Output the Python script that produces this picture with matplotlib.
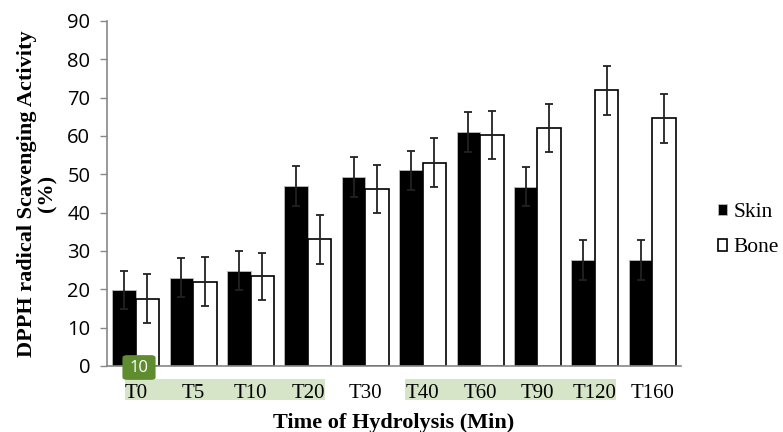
import numpy as np
import matplotlib.pyplot as plt
from matplotlib.patches import FancyBboxPatch, Rectangle

times = ["T0", "T5", "T10", "T20", "T30", "T40", "T60", "T90", "T120", "T160"]
skin = [19.8, 23.0, 24.9, 47.0, 49.4, 51.0, 61.1, 46.8, 27.7, 27.7]
skin_err = [5.0, 5.1, 5.2, 5.2, 5.2, 5.1, 5.2, 5.1, 5.2, 5.2]
bone = [17.5, 22.0, 23.4, 33.0, 46.1, 53.0, 60.2, 62.1, 71.9, 64.6]
bone_err = [6.4, 6.4, 6.2, 6.3, 6.3, 6.4, 6.3, 6.3, 6.4, 6.4]

fig = plt.figure(figsize=(7.83, 4.32), dpi=100)
ax = fig.add_axes([0.1367, 0.1528, 0.7330, 0.7986])

x = np.arange(len(times))
w = 0.41
eb = dict(ecolor="#222222", elinewidth=1.3, capsize=3, capthick=1.3)
ax.bar(x - w / 2, skin, w, color="black", edgecolor="#bbbbbb", linewidth=0.6,
       yerr=skin_err, error_kw=eb, label="Skin", zorder=2)
ax.bar(x + w / 2, bone, w, color="white", edgecolor="black", linewidth=1.2,
       yerr=bone_err, error_kw=eb, label="Bone", zorder=2)

ax.set_xlim(-0.5, len(times) - 0.5)
ax.set_ylim(0, 90)
ax.set_yticks(np.arange(0, 91, 10))
ax.set_xticks(x)
ax.set_xticklabels(times, family="Liberation Serif", fontsize=15)
for lab in ax.get_yticklabels():
    lab.set_family("Open Sans")
    lab.set_fontsize(14.5)
ax.tick_params(axis="x", length=0, pad=13)
ax.tick_params(axis="y", length=5, color="#888888", width=1, pad=7)
for s in ["top", "right"]:
    ax.spines[s].set_visible(False)
for s in ["left", "bottom"]:
    ax.spines[s].set_color("#888888")
    ax.spines[s].set_linewidth(1.2)

ax.set_ylabel("DPPH radical Scavenging Activity\n(%)", family="Liberation Serif",
              fontweight="bold", fontsize=16, linespacing=1.05, labelpad=7)
ax.set_xlabel("Time of Hydrolysis (Min)", family="Liberation Serif",
              fontweight="bold", fontsize=16, labelpad=7.5)

leg = ax.legend(loc="center left", bbox_to_anchor=(1.049, 0.393), frameon=False,
                prop={"family": "Liberation Serif", "size": 15.5}, borderaxespad=0,
                handlelength=0.45, handleheight=0.45, handletextpad=0.3,
                labelspacing=0.75)

# highlighted tick label regions
for x0, x1 in [(125, 325), (405, 616)]:
    fig.patches.append(Rectangle((x0 / 783, 1 - 400 / 432), (x1 - x0) / 783, 21 / 432,
                                 transform=fig.transFigure, facecolor="#d6e4c8",
                                 edgecolor="none", zorder=-1))
badge = FancyBboxPatch((124 / 783, 1 - 379 / 432), 30 / 783, 23 / 432,
                       boxstyle="round,pad=0.002,rounding_size=0.006",
                       transform=fig.transFigure, facecolor="#5e8c2e",
                       edgecolor="none", zorder=5)
fig.patches.append(badge)
fig.text(139 / 783, 1 - 367.5 / 432, "10", color="white", fontsize=12,
         family="Open Sans", ha="center", va="center", zorder=6)

fig.savefig("out.png", dpi=100)
